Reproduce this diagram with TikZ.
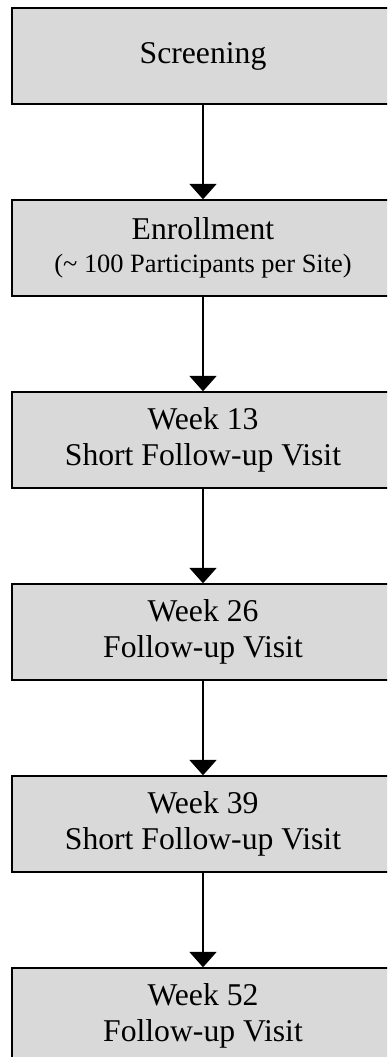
\documentclass[tikz,border=0pt]{standalone}
\usepackage{fontspec}
\setmainfont{Liberation Serif}
\usepackage{tikz}
\usetikzlibrary{shapes,arrows,arrows.meta}

\tikzset{visit/.style={draw=black, line width=0.5pt, fill=black!15, align=center,
  minimum width=144.7pt, minimum height=36.4pt, inner sep=0pt,
  font=\fontsize{12}{13.5}\selectfont}}
\tikzset{flow/.style={line width=0.45pt, -{Triangle[width=10.2pt,length=5.8pt]}}}

\begin{document}
\begin{tikzpicture}[x=0.3788pt, y=-0.3788pt]
   \useasboundingbox (0,0) rectangle (387,1057);
   \clip (0,0) rectangle (387,1057);
   \node[visit] (screen) at (203,56) {Screening};
   \node[visit] (enrol) at (203,248) {Enrollment\\[-1pt]{\fontsize{10}{12}\selectfont(\textasciitilde{} 100 Participants per Site)}};
   \node[visit] (wk13) at (203,440) {Week 13\\Short Follow-up Visit};
   \node[visit] (wk26) at (203,632) {Week 26\\Follow-up Visit};
   \node[visit] (wk39) at (203,824) {Week 39\\Short Follow-up Visit};
   \node[visit] (wk52) at (203,1016) {Week 52\\Follow-up Visit};
   \foreach \a/\b in {screen/enrol,enrol/wk13,wk13/wk26,wk26/wk39,wk39/wk52}
      \draw[flow] (\a.south) -- (\b.north);
\end{tikzpicture}
\end{document}
